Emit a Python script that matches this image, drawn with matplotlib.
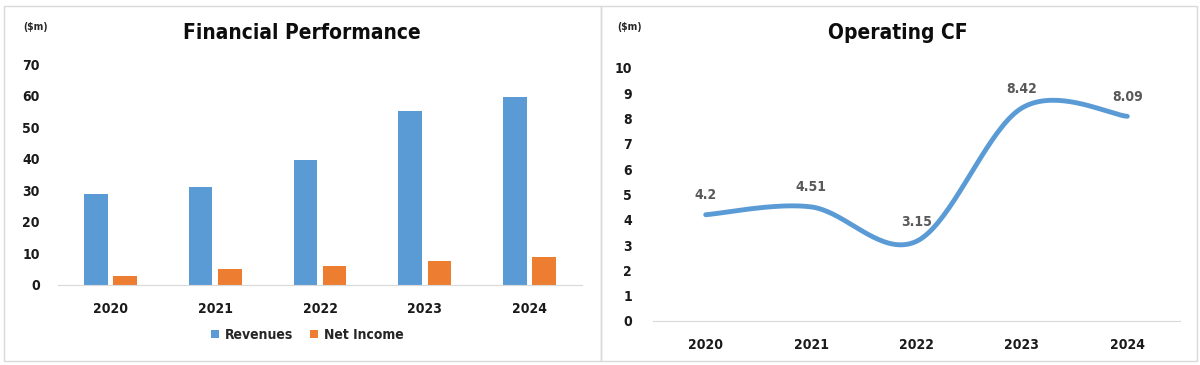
import matplotlib
matplotlib.use('Agg')
import matplotlib.pyplot as plt
from matplotlib.patches import Rectangle
import numpy as np

plt.rcParams['font.family'] = ['DejaVu Sans']
plt.rcParams['font.stretch'] = 'condensed'

years = ['2020', '2021', '2022', '2023', '2024']
revenues = [28.8, 30.9, 39.7, 55.0, 59.4]
net_income = [2.8, 5.0, 5.9, 7.5, 8.8]
operating_cf = [4.2, 4.51, 3.15, 8.42, 8.09]
cf_labels = ['4.2', '4.51', '3.15', '8.42', '8.09']

blue = '#5B9BD5'
orange = '#ED7D31'
grid_grey = '#D9D9D9'


def smooth(xs, ys, n=40):
	# excel style smoothed line: bezier with catmull-rom control points
	px = list(xs)
	py = list(ys)
	outx, outy = [], []
	k = len(px)
	for i in range(k - 1):
		a = max(i - 1, 0)
		b = min(i + 2, k - 1)
		x0, y0 = px[i], py[i]
		x3, y3 = px[i + 1], py[i + 1]
		x1 = x0 + (px[i + 1] - px[a]) / 6.0
		y1 = y0 + (py[i + 1] - py[a]) / 6.0
		x2 = x3 - (px[b] - px[i]) / 6.0
		y2 = y3 - (py[b] - py[i]) / 6.0
		t = np.linspace(0, 1, n)
		outx.extend((1-t)**3*x0 + 3*(1-t)**2*t*x1 + 3*(1-t)*t**2*x2 + t**3*x3)
		outy.extend((1-t)**3*y0 + 3*(1-t)**2*t*y1 + 3*(1-t)*t**2*y2 + t**3*y3)
	return outx, outy


fig = plt.figure(figsize=(12, 3.65), dpi=100)

# panel borders
fig.patches.append(Rectangle((4/1200, 1-361/365), 597/1200, 355/365, transform=fig.transFigure,
	fill=False, edgecolor=grid_grey, linewidth=1))
fig.patches.append(Rectangle((601/1200, 1-361/365), 596/1200, 355/365, transform=fig.transFigure,
	fill=False, edgecolor=grid_grey, linewidth=1))

# left: financial performance
ax1 = fig.add_axes([58/1200, 1-285/365, 524/1200, 221/365])
x = np.arange(len(years))
ax1.bar(x - 0.14, revenues, 0.225, color=blue, label='Revenues')
ax1.bar(x + 0.14, net_income, 0.225, color=orange, label='Net Income')
ax1.set_xlim(-0.5, 4.5)
ax1.set_ylim(0, 70)
ax1.set_yticks(range(0, 71, 10))
ax1.set_xticks(x)
ax1.set_xticklabels(years)
for s in ['top', 'right', 'left']:
	ax1.spines[s].set_visible(False)
ax1.spines['bottom'].set_color(grid_grey)
ax1.tick_params(axis='both', length=0, labelsize=10, colors='#1a1a1a')
ax1.tick_params(axis='y', pad=13)
ax1.tick_params(axis='x', pad=12)
for lbl in ax1.get_xticklabels() + ax1.get_yticklabels():
	lbl.set_fontweight('bold')
leg = ax1.legend(loc='center', bbox_to_anchor=(0.476, -0.226), ncol=2, frameon=False,
	handlelength=0.6, handleheight=0.6, handletextpad=0.4, columnspacing=1.2,
	prop={'size': 10, 'weight': 'bold', 'stretch': 'condensed'})
for t in leg.get_texts():
	t.set_color('#262626')
fig.text(302/1200, 1-33/365, 'Financial Performance', ha='center', va='center',
	fontsize=15, fontweight='bold', color='#0d0d0d')
fig.text(35/1200, 1-27/365, '($m)', ha='center', va='center', fontsize=7.5,
	fontweight='bold', color='#262626')

# right: operating cf
ax2 = fig.add_axes([653/1200, 1-321/365, 527/1200, 253/365])
sx, sy = smooth(x, operating_cf)
ax2.plot(sx, sy, color=blue, linewidth=3.5, solid_capstyle='round')
for xi, v, s in zip(x, operating_cf, cf_labels):
	ax2.annotate(s, (xi, v), xytext=(0, 14), textcoords='offset points', ha='center',
		va='center', fontsize=10, fontweight='bold', color='#595959')
ax2.set_xlim(-0.5, 4.5)
ax2.set_ylim(0, 10)
ax2.set_yticks(range(0, 11))
ax2.set_xticks(x)
ax2.set_xticklabels(years)
for s in ['top', 'right', 'left']:
	ax2.spines[s].set_visible(False)
ax2.spines['bottom'].set_color(grid_grey)
ax2.tick_params(axis='both', length=0, labelsize=10, colors='#1a1a1a')
ax2.tick_params(axis='y', pad=15)
ax2.tick_params(axis='x', pad=12)
for lbl in ax2.get_xticklabels() + ax2.get_yticklabels():
	lbl.set_fontweight('bold')
fig.text(898/1200, 1-33/365, 'Operating CF', ha='center', va='center',
	fontsize=15, fontweight='bold', color='#0d0d0d')
fig.text(629/1200, 1-27/365, '($m)', ha='center', va='center', fontsize=7.5,
	fontweight='bold', color='#262626')

fig.savefig('out.png', dpi=100)
